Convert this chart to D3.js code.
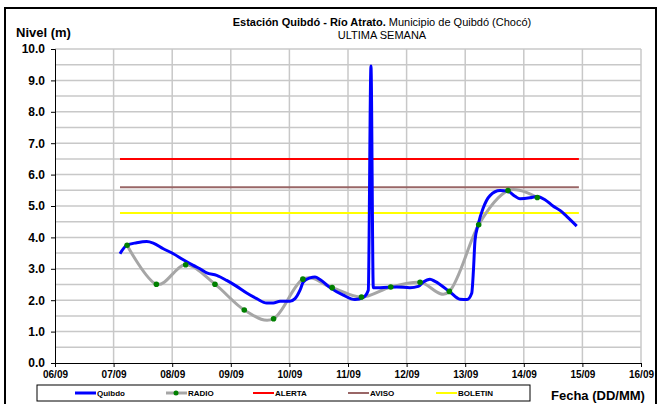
<!DOCTYPE html>
<html><head><meta charset="utf-8">
<script src="https://cdn.jsdelivr.net/npm/d3@7"></script>
<style>
html,body{margin:0;padding:0;background:#fff;}
svg{display:block;font-family:"Liberation Sans",Arial,sans-serif;}
</style></head>
<body><svg id="c" width="661" height="404"></svg>
<script>
// ---- data ----
const dayTicks = [6,7,8,9,10,11,12,13,14,15,16];
const dayLabels = ["06/09","07/09","08/09","09/09","10/09","11/09","12/09","13/09","14/09","15/09","16/09"];
const yTicks = [0,1,2,3,4,5,6,7,8,9,10];
const quibdoDays = [7.109,7.224,7.394,7.565,7.677,7.848,8.019,8.189,8.360,8.474,8.589,8.759,8.930,9.101,9.271,9.442,9.613,9.725,9.840,10.010,10.096,10.181,10.237,10.352,10.437,10.522,10.693,10.920,11.119,11.261,11.346,11.392,11.432,11.546,11.831,12.058,12.200,12.285,12.399,12.485,12.741,12.911,13.031,13.111,13.142,13.167,13.224,13.304,13.423,13.594,13.730,13.850,13.935,14.106,14.220,14.362,14.498,14.618,14.732,14.903];
const quibdoValues = [3.48,3.75,3.83,3.87,3.82,3.64,3.48,3.29,3.11,3.00,2.87,2.79,2.63,2.44,2.23,2.05,1.91,1.91,1.97,1.97,2.05,2.32,2.58,2.71,2.74,2.66,2.40,2.16,2.02,2.09,2.32,9.46,2.40,2.40,2.42,2.40,2.44,2.58,2.67,2.60,2.26,2.03,2.02,2.22,3.00,3.90,4.43,4.92,5.33,5.49,5.47,5.31,5.23,5.26,5.30,5.20,5.00,4.86,4.67,4.36];
const radioDays = [7.23,7.73,8.23,8.73,9.23,9.73,10.23,10.73,11.23,11.73,12.23,12.73,13.23,13.73,14.23];
const radioValues = [3.75,2.51,3.13,2.51,1.69,1.41,2.67,2.40,2.10,2.42,2.57,2.28,4.40,5.49,5.27];
const thresholdNames = ["ALERTA","AVISO","BOLETIN"];
const thresholdValues = [6.5,5.6,4.78];
const thresholdSpan = [7.109,14.94];
const legendNames = ["Quibdo","RADIO","ALERTA","AVISO","BOLETIN"];

// ---- styles ----
const colors = {Quibdo:"#0000ff", RADIO:"#a6a6a6", ALERTA:"#ff0000", AVISO:"#996666", BOLETIN:"#ffff00"};

const svg = d3.select("#c");
const x = d3.scaleLinear().domain([6,16]).range([55,641]);
const y = d3.scaleLinear().domain([0,10]).range([363,49]);

// outer frame
svg.append("rect").attr("x",5).attr("y",8).attr("width",651).attr("height",420)
  .attr("fill","none").attr("stroke","#000").attr("stroke-width",2);

// gridlines
const hGrid = d3.range(1,21).map(i=>i*0.5);
svg.append("g").selectAll("line").data(hGrid).join("line")
  .attr("x1",x(6)).attr("x2",x(16)).attr("y1",d=>y(d)).attr("y2",d=>y(d))
  .attr("stroke","#c8c8c8").attr("stroke-width",1.5);
svg.append("g").selectAll("line").data(dayTicks.slice(1)).join("line")
  .attr("x1",d=>x(d)).attr("x2",d=>x(d)).attr("y1",y(0)).attr("y2",y(10))
  .attr("stroke","#c8c8c8").attr("stroke-width",1.5);

// axes
const yAxis = svg.append("g").attr("transform",`translate(${x(6)},0)`)
  .call(d3.axisLeft(y).tickValues(yTicks).tickFormat(d3.format(".1f")).tickSize(4).tickPadding(6));
const xAxis = svg.append("g").attr("transform",`translate(0,${y(0)})`)
  .call(d3.axisBottom(x).tickValues(dayTicks).tickFormat((d,i)=>dayLabels[i]).tickSize(4).tickPadding(4));
[yAxis,xAxis].forEach(g=>{
  g.select(".domain").attr("stroke","#000").attr("stroke-width",1);
  g.selectAll(".tick line").attr("stroke","#000");
  g.selectAll("text").attr("fill","#000").style("font-weight","bold")
   .style("font-family","'Liberation Sans',Arial,sans-serif");
});
yAxis.selectAll("text").style("font-size","12px");
xAxis.selectAll("text").style("font-size","10px");

// thresholds
svg.append("g").selectAll("line").data(thresholdNames).join("line")
  .attr("x1",x(thresholdSpan[0])).attr("x2",x(thresholdSpan[1]))
  .attr("y1",(d,i)=>y(thresholdValues[i])).attr("y2",(d,i)=>y(thresholdValues[i]))
  .attr("stroke",d=>colors[d]).attr("stroke-width",2);

// radio line
const radio = radioDays.map((d,i)=>[d,radioValues[i]]);
svg.append("path").datum(radio)
  .attr("d",d3.line().x(d=>x(d[0])).y(d=>y(d[1])).curve(d3.curveCatmullRom.alpha(0)))
  .attr("fill","none").attr("stroke",colors.RADIO).attr("stroke-width",3);

// quibdo line
const q = quibdoDays.map((d,i)=>[d,quibdoValues[i]]);
svg.append("path").datum(q)
  .attr("d",d3.line().x(d=>x(d[0])).y(d=>y(d[1])).curve(d3.curveMonotoneX))
  .attr("fill","none").attr("stroke",colors.Quibdo).attr("stroke-width",3).attr("stroke-linejoin","round");

// radio markers
svg.append("g").selectAll("circle").data(radio).join("circle")
  .attr("cx",d=>x(d[0])).attr("cy",d=>y(d[1])).attr("r",2.8).attr("fill","#008000");

// titles
const t = svg.append("text").attr("x",382).attr("y",26).attr("text-anchor","middle").style("font-size","11px");
t.append("tspan").style("font-weight","bold").text("Estación Quibdó - Río Atrato.");
t.append("tspan").text(" Municipio de Quibdó (Chocó)");
svg.append("text").attr("x",382).attr("y",39).attr("text-anchor","middle").style("font-size","11px").text("ULTIMA SEMANA");
svg.append("text").attr("x",16).attr("y",37).style("font-size","13px").style("font-weight","bold").text("Nivel (m)");
svg.append("text").attr("x",551).attr("y",400).style("font-size","13px").style("font-weight","bold").text("Fecha (DD/MM)");

// legend
const lg = svg.append("g");
lg.append("rect").attr("x",37).attr("y",385).attr("width",493).attr("height",16)
  .attr("fill","#fff").attr("stroke","#000").attr("stroke-width",1);
const legX = [75,166,253,348,436];
legendNames.forEach((n,i)=>{
  const lx = legX[i];
  lg.append("line").attr("x1",lx).attr("x2",lx+21).attr("y1",393).attr("y2",393)
    .attr("stroke",colors[n]).attr("stroke-width",n==="RADIO"||n==="Quibdo"?3:2);
  if(n==="RADIO") lg.append("circle").attr("cx",lx+10).attr("cy",393).attr("r",2.5).attr("fill","#008000");
  lg.append("text").attr("x",lx+22).attr("y",396).style("font-size","8px").style("font-weight","bold").text(n);
});
</script></body></html>
